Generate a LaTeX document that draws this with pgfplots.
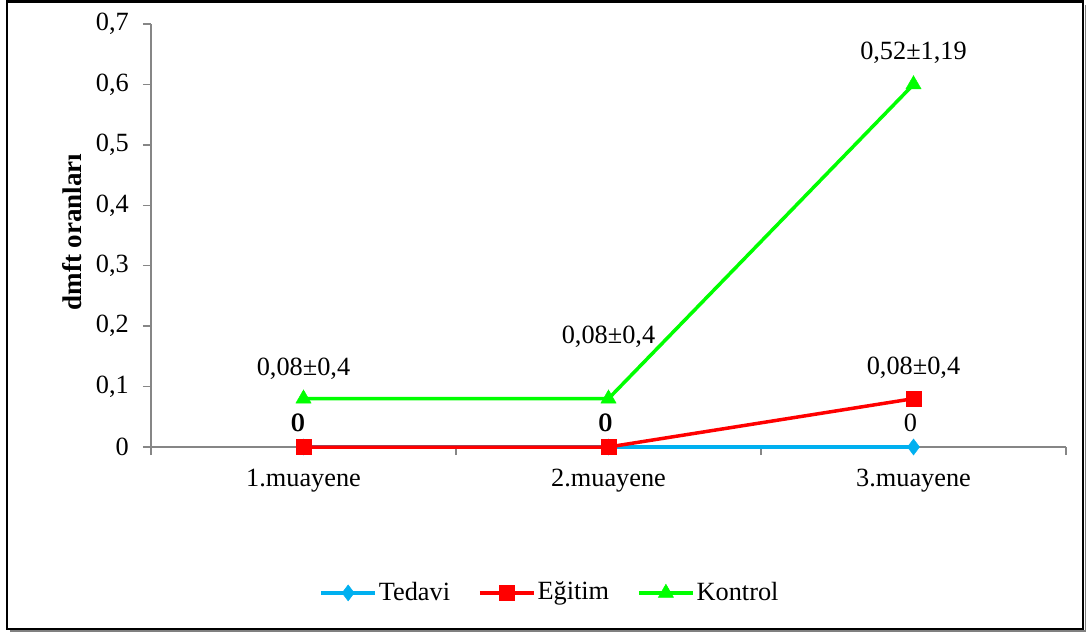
\documentclass[border=0pt]{standalone}
\usepackage{pgfplots}
\pgfplotsset{compat=1.18}
\usepackage{fontspec}
\setmainfont{Liberation Serif}
\definecolor{tblue}{HTML}{00B0F0}
\definecolor{tred}{HTML}{FF0000}
\definecolor{tgreen}{HTML}{00FF00}
\definecolor{axgray}{HTML}{868686}

\pgfplotsset{
  lbl/.style={
    nodes near coords,
    point meta=explicit symbolic,
    visualization depends on={value \thisrow{dx}\as\dx},
    visualization depends on={value \thisrow{dy}\as\dy},
    every node near coord/.append style={anchor=center, xshift=\dx pt, yshift=\dy pt, text=black, inner sep=0pt, font=\fontsize{26.3}{30}\selectfont},
  },
}

\begin{document}
\fontsize{26.3}{30}\selectfont
\begin{tikzpicture}[x=1pt,y=1pt]
\useasboundingbox (-151,-185) rectangle (937,447);
\draw[line width=2.5pt] (-144,445.5) rectangle (932,-182);
\draw[gray, line width=1.5pt] (-141,-184) -- (934.5,-184) -- (934.5,442);
\begin{axis}[
  at={(0,0)}, anchor=south west,
  scale only axis, width=915pt, height=423pt,
  xmin=0.5, xmax=3.5, ymin=0, ymax=0.7,
  clip=false,
  axis lines=left,
  axis line style={-, draw=axgray, line width=1.5pt},
  tick align=outside,
  major tick length=8pt,
  every tick/.style={draw=axgray, line width=1.5pt},
  ytick={0,0.1,0.2,0.3,0.4,0.5,0.6,0.7},
  yticklabels={0,{0,1},{0,2},{0,3},{0,4},{0,5},{0,6},{0,7}},
  yticklabel style={font=\fontsize{26.3}{30}\selectfont, inner sep=0pt, xshift=-14pt},
  xtick={0.5,1.5,2.5,3.5},
  xticklabels={},
  extra x ticks={1,2,3},
  extra x tick labels={1.muayene,2.muayene,3.muayene},
  extra x tick style={major tick length=0pt, xticklabel style={font=\fontsize{26.3}{30}\selectfont, inner sep=0pt, yshift=-22pt}},
  ylabel={\bfseries dmft oranları},
  every axis y label/.style={at={(axis description cs:-0.0863,0.508)}, rotate=90, anchor=center, font=\fontsize{27}{30}\selectfont},
  legend style={at={(axis description cs:0.436,-0.345)}, anchor=center, draw=none, fill=none,
    legend columns=-1, font=\fontsize{26.3}{30}\selectfont,
    /tikz/every even column/.append style={column sep=26pt},
    legend cell align=left},
  legend image code/.code={\draw[mark repeat=2,mark phase=2] plot coordinates {(0pt,0pt)(27pt,0pt)(54pt,0pt)};},
]
\addplot[color=tblue, line width=3.5pt, mark=diamond*, mark size=8pt, mark options={solid, line width=0.5pt}, lbl]
  table[meta=lab] {
x y lab dx dy
1 0 0 -6 24
2 0 0 -3.5 24
3 0 0 -3 24.5
};
\addplot[color=tred, line width=3.5pt, mark=square*, mark size=7.5pt, mark options={solid, line width=0.5pt}, lbl]
  table[meta=lab] {
x y lab dx dy
1 0 0 -5 24
2 0 0 -2.5 24
3 0.08 0,08±0,4 0 30.5
};
\addplot[color=tgreen, line width=3.5pt, mark=triangle*, mark size=8.7pt, mark options={solid, line width=0.5pt}, lbl]
  table[meta=lab] {
x y lab dx dy
1 0.08 0,08±0,4 0 30
2 0.08 0,08±0,4 0 62
3 0.6 0,52±1,19 0 31.5
};
\legend{Tedavi,Eğitim,Kontrol}
\end{axis}
\end{tikzpicture}
\end{document}
